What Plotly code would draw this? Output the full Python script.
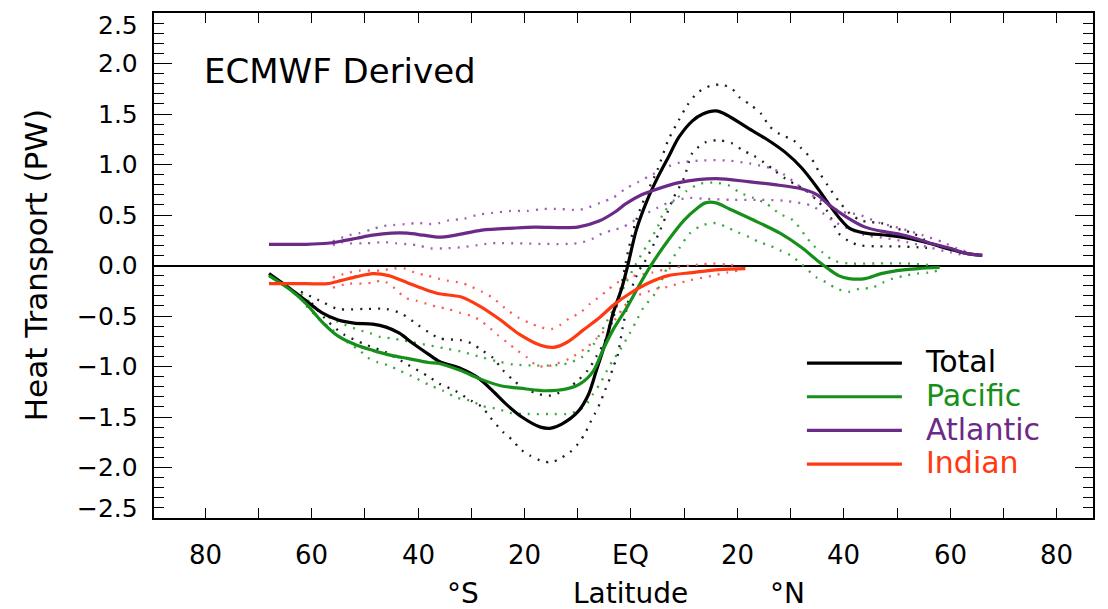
import plotly.graph_objects as go

# ---------------- data ----------------
total_lat = [-68, -64, -61, -58, -55, -52, -48.5, -46, -43.5, -41, -38, -36, -32, -28.5, -26, -23.5,
             -20.5, -17, -15, -13, -10, -8, -6.5, -4.5, -3.4, -1.7, -0.6, 1, 3, 5, 7, 9, 11.5, 13.5,
             16, 18, 22, 25.5, 29, 32, 35, 37, 39, 41, 44, 48, 52, 56, 60, 63, 66]
total_val = [-0.08, -0.23, -0.35, -0.47, -0.54, -0.57, -0.58, -0.61, -0.67, -0.77, -0.88, -0.95, -1.02,
             -1.12, -1.24, -1.37, -1.50, -1.60, -1.61, -1.57, -1.45, -1.28, -1.04, -0.71, -0.48, -0.22,
             0.0, 0.35, 0.64, 0.87, 1.07, 1.27, 1.43, 1.50, 1.53, 1.49, 1.36, 1.25, 1.12, 0.97, 0.77,
             0.62, 0.48, 0.37, 0.32, 0.30, 0.27, 0.22, 0.16, 0.12, 0.10]

total_up_lat = [-62, -58, -55, -50, -46, -43, -40, -38, -36, -32, -30, -28, -26, -24, -22, -20, -17.5,
                -15.5, -14, -12, -10, -8, -6.5, -5, -3.5, -2, -0.5, 1, 3, 5, 7, 9, 10.5, 12.5, 15, 17,
                19, 20.5, 22.5, 24.5, 26, 28, 30.5, 32, 34, 35.5, 37, 39, 41, 43, 45, 47, 49, 51, 53,
                55, 57, 59]
total_up_val = [-0.26, -0.36, -0.43, -0.43, -0.43, -0.48, -0.59, -0.66, -0.72, -0.74, -0.77, -0.84,
                -0.91, -1.04, -1.14, -1.22, -1.27, -1.29, -1.27, -1.22, -1.14, -1.03, -0.90, -0.76,
                -0.55, -0.25, 0.15, 0.45, 0.72, 0.95, 1.24, 1.44, 1.58, 1.71, 1.78, 1.79, 1.75, 1.66,
                1.59, 1.50, 1.38, 1.30, 1.24, 1.16, 1.05, 0.91, 0.79, 0.64, 0.52, 0.45, 0.43, 0.42,
                0.38, 0.35, 0.32, 0.26, 0.21, 0.16]

total_lo_lat = [-60, -57, -54, -50, -46, -42, -38, -36, -33, -30, -28, -26.5, -24, -22, -21, -19, -17,
                -15, -13.3, -11.5, -10, -8.6, -7.7, -6.8, -5.8, -4.9, -3.9, -3.4, -2.6, -1.5, 0, 1.5,
                2.5, 4, 5.5, 6.5, 8, 10, 11.5, 14, 16.5, 19, 21, 23, 25, 27, 29, 31, 33, 35, 37, 39,
                41, 43, 46, 50, 54, 57]
total_lo_val = [-0.37, -0.55, -0.68, -0.78, -0.86, -0.98, -1.10, -1.17, -1.24, -1.34, -1.40, -1.50,
                -1.65, -1.74, -1.81, -1.88, -1.93, -1.95, -1.91, -1.85, -1.77, -1.66, -1.56, -1.47,
                -1.36, -1.24, -1.11, -1.01, -0.91, -0.60, -0.25, -0.05, 0.03, 0.18, 0.35, 0.48, 0.67,
                0.87, 1.11, 1.22, 1.24, 1.21, 1.14, 1.09, 1.02, 0.94, 0.86, 0.80, 0.74, 0.64, 0.53,
                0.32, 0.24, 0.20, 0.19, 0.19, 0.18, 0.17]

pac_lat = [-68, -64, -61, -58, -55, -51.5, -48.5, -45, -42, -38, -36, -32, -28.5, -24.5, -20, -16,
           -12, -9.5, -7, -5.3, -3.4, -0.8, 1.5, 3.5, 7, 10, 12.5, 14, 16, 18.5, 23, 28, 32, 35, 37,
           39, 41, 44, 47, 50, 54, 58]
pac_val = [-0.10, -0.24, -0.38, -0.56, -0.70, -0.79, -0.84, -0.89, -0.92, -0.96, -0.97, -1.04, -1.12,
           -1.19, -1.22, -1.24, -1.22, -1.17, -1.04, -0.84, -0.64, -0.42, -0.20, -0.02, 0.25, 0.45,
           0.57, 0.62, 0.62, 0.56, 0.45, 0.32, 0.18, 0.05, -0.03, -0.10, -0.13, -0.13, -0.08, -0.05,
           -0.03, -0.02]

pac_up_lat = [-62, -58, -55, -51, -49, -47, -45, -43, -41, -38, -35, -32, -28, -25, -22, -18, -15,
              -12, -9, -7, -5, -3, -1, 1, 3, 5, 6, 8, 10.5, 13, 16, 18.5, 20.5, 23, 25.5, 28, 30.4,
              32.7, 34.2, 36, 38, 41, 46, 52, 57]
pac_up_val = [-0.28, -0.47, -0.56, -0.64, -0.67, -0.71, -0.72, -0.74, -0.76, -0.79, -0.82, -0.85,
              -0.91, -0.95, -0.98, -0.99, -0.99, -0.97, -0.90, -0.78, -0.60, -0.40, -0.18, 0.02,
              0.20, 0.38, 0.51, 0.64, 0.74, 0.81, 0.82, 0.79, 0.72, 0.67, 0.61, 0.51, 0.45, 0.30,
              0.20, 0.13, 0.05, 0.02, 0.02, 0.02, 0.0]

pac_lo_lat = [-61, -58, -56.5, -54.5, -53, -51, -49.5, -47.5, -45.5, -43.5, -41, -38, -35.3, -32.7,
              -30, -28, -25, -22.7, -19.5, -14.6, -12, -10, -8.3, -7.1, -5.8, -4.5, -3.4, -2.1, -0.2,
              1.1, 2.3, 4.9, 6.8, 9.2, 11.1, 13.5, 16, 18, 20, 22.3, 24.2, 26, 28, 30, 31.7, 34.9,
              36.8, 38.7, 41, 43, 45.3, 47.3, 49.2, 51.5, 53.7, 55.8, 57.7]
pac_lo_val = [-0.40, -0.56, -0.62, -0.71, -0.77, -0.84, -0.91, -0.96, -0.99, -1.04, -1.10, -1.18,
              -1.24, -1.31, -1.34, -1.39, -1.42, -1.46, -1.47, -1.47, -1.47, -1.44, -1.37, -1.27,
              -1.17, -1.04, -0.94, -0.84, -0.67, -0.54, -0.42, -0.25, -0.02, 0.18, 0.32, 0.40, 0.42,
              0.38, 0.33, 0.28, 0.23, 0.20, 0.15, 0.10, 0.03, -0.12, -0.17, -0.23, -0.26, -0.23,
              -0.22, -0.17, -0.13, -0.10, -0.08, -0.07, -0.05]

atl_lat = [-68, -61, -57, -54.5, -51.5, -48.5, -45, -42, -39, -36, -33, -28, -22, -18, -10, -6, -3,
           -1, 2, 4, 9, 16, 22, 27, 32, 35, 37, 40.5, 44, 47, 50.5, 54, 57, 60, 63, 66]
atl_val = [0.21, 0.21, 0.22, 0.24, 0.27, 0.30, 0.32, 0.32, 0.30, 0.28, 0.30, 0.35, 0.37, 0.38, 0.38,
           0.44, 0.53, 0.61, 0.70, 0.74, 0.82, 0.86, 0.83, 0.80, 0.76, 0.70, 0.61, 0.48, 0.38, 0.34,
           0.31, 0.26, 0.21, 0.17, 0.12, 0.10]

atl_up_lat = [-56, -53, -51, -48.6, -46.6, -44.7, -42.4, -40, -38, -36, -34, -31.5, -29, -26, -22.7,
              -19.5, -16.5, -13.3, -10, -8.3, -5.8, -3.4, -1, 1.5, 4, 7, 9.2, 13.5, 18, 22.3, 26.5,
              28.5, 33.6, 39.2, 43, 46.8, 50.5, 54.8, 58.6, 61.2, 64]
atl_up_val = [0.24, 0.30, 0.32, 0.36, 0.39, 0.40, 0.41, 0.42, 0.41, 0.42, 0.45, 0.46, 0.50, 0.52,
              0.54, 0.54, 0.56, 0.56, 0.55, 0.57, 0.62, 0.67, 0.76, 0.83, 0.90, 0.98, 1.02, 1.04,
              1.04, 1.01, 0.96, 0.91, 0.71, 0.54, 0.50, 0.42, 0.37, 0.30, 0.23, 0.17, 0.12]

atl_lo_lat = [-56, -54.6, -52.8, -50, -46, -44, -42, -40, -37.7, -35, -32, -29, -26, -10, -7, -5.3,
              -3.4, -1.5, 1.7, 4.9, 7.9, 11, 14, 19, 24, 29, 34, 36, 38, 41, 44, 48, 52, 56, 60, 63]
atl_lo_val = [0.20, 0.23, 0.22, 0.22, 0.23, 0.22, 0.21, 0.20, 0.17, 0.17, 0.18, 0.20, 0.22, 0.22,
              0.27, 0.32, 0.35, 0.38, 0.48, 0.57, 0.64, 0.67, 0.66, 0.65, 0.65, 0.64, 0.59, 0.52,
              0.44, 0.36, 0.30, 0.27, 0.23, 0.18, 0.13, 0.10]

ind_lat = [-68, -61, -57, -54.5, -51.5, -48.5, -45.5, -42, -39, -36, -32, -28.5, -24.5, -21, -17,
           -14.5, -12, -9, -6, -3, 0, 3, 7, 11.5, 16.5, 21.5]
ind_val = [-0.18, -0.18, -0.18, -0.15, -0.11, -0.08, -0.10, -0.17, -0.23, -0.28, -0.31, -0.40, -0.54,
           -0.68, -0.79, -0.81, -0.76, -0.64, -0.52, -0.38, -0.27, -0.18, -0.10, -0.07, -0.04, -0.03]

ind_up_lat = [-56, -53, -51, -47, -44.7, -42.4, -40.6, -38.3, -36.2, -34.5, -32, -30, -28, -26, -23,
              -21, -19, -17, -15, -13.3, -11.5, -9.6, -7.7, -6.2, -4.5, -2.6, 0, 4, 7, 11, 13, 15.4,
              17.7, 20]
ind_up_val = [-0.12, -0.07, -0.05, -0.05, -0.03, -0.03, -0.07, -0.10, -0.13, -0.15, -0.17, -0.21,
              -0.26, -0.32, -0.45, -0.52, -0.57, -0.61, -0.63, -0.59, -0.52, -0.47, -0.38, -0.32,
              -0.25, -0.17, -0.11, -0.07, -0.03, 0.0, 0.01, 0.02, 0.01, 0.0]

ind_lo_lat = [-56, -53, -50.5, -48.5, -46.6, -44.3, -42.4, -40.2, -38.3, -36.4, -34.4, -32, -30,
              -28.4, -26.5, -25, -23.3, -21.4, -19.5, -17.7, -15.8, -13.9, -11.5, -8.3, -6.4, -4.5,
              -2.6, -1.5, 0.4, 4.9, 7, 10.7, 13.5, 15.4, 18, 20]
ind_lo_val = [-0.22, -0.18, -0.18, -0.17, -0.15, -0.23, -0.32, -0.35, -0.38, -0.41, -0.43, -0.47,
              -0.50, -0.54, -0.62, -0.69, -0.76, -0.84, -0.91, -0.99, -1.00, -0.97, -0.92, -0.81,
              -0.72, -0.62, -0.51, -0.42, -0.32, -0.23, -0.21, -0.15, -0.12, -0.10, -0.07, -0.05]

series_names = ["Total", "Pacific", "Atlantic", "Indian"]
x_tick_vals = [-80, -70, -60, -50, -40, -30, -20, -10, 0, 10, 20, 30, 40, 50, 60, 70, 80]
x_tick_text = ["80", "", "60", "", "40", "", "20", "", "EQ", "", "20", "", "40", "", "60", "", "80"]
y_tick_vals = [2.5, 2.0, 1.5, 1.0, 0.5, 0.0, -0.5, -1.0, -1.5, -2.0, -2.5]
y_tick_text = ["2.5", "2.0", "1.5", "1.0", "0.5", "0.0", "\u22120.5", "\u22121.0", "\u22121.5",
               "\u22122.0", "\u22122.5"]

# ---------------- styling ----------------
FONT = "DejaVu Sans"
colors = {"Total": "#000000", "Pacific": "#16901a", "Atlantic": "#6b2a86", "Indian": "#ff3a12"}
dot_colors = {"Total": "#202020", "Pacific": "#3aa83a", "Atlantic": "#a25cb8", "Indian": "#ff5a5a"}

fig = go.Figure()

envelopes = [
    ("Total", total_up_lat, total_up_val), ("Total", total_lo_lat, total_lo_val),
    ("Pacific", pac_up_lat, pac_up_val), ("Pacific", pac_lo_lat, pac_lo_val),
    ("Atlantic", atl_up_lat, atl_up_val), ("Atlantic", atl_lo_lat, atl_lo_val),
    ("Indian", ind_up_lat, ind_up_val), ("Indian", ind_lo_lat, ind_lo_val),
]
for name, xs, ys in envelopes:
    fig.add_trace(go.Scatter(x=xs, y=ys, mode="lines", showlegend=False, hoverinfo="skip",
                             line=dict(color=dot_colors[name], width=2.3, dash="2px,7px",
                                       shape="spline", smoothing=0.8)))

solids = [("Total", total_lat, total_val), ("Pacific", pac_lat, pac_val),
          ("Atlantic", atl_lat, atl_val), ("Indian", ind_lat, ind_val)]
NB = "\u00a0\u00a0"
for rank, (name, xs, ys) in enumerate(solids):
    fig.add_trace(go.Scatter(
        x=xs, y=ys, mode="lines", legendrank=rank + 1,
        name='<span style="color:%s;font-size:30px">%s%s</span>' % (colors[name], NB, name),
        line=dict(color=colors[name], width=3.2, shape="spline", smoothing=0.8)))

# y tick labels as text next to the axis
y_shift = {2.5: -12, -2.5: 10}
for v, t in zip(y_tick_vals, y_tick_text):
    fig.add_annotation(x=0, xref="paper", y=v, yref="y", text=t, showarrow=False,
                       xanchor="right", yanchor="middle", xshift=-14, yshift=y_shift.get(v, 0),
                       font=dict(family=FONT, size=25, color="black"))
# x tick labels
for v, t in zip(x_tick_vals, x_tick_text):
    if t:
        fig.add_annotation(x=v, xref="x", y=0, yref="paper", text=t, showarrow=False,
                           xanchor="center", yanchor="middle", yshift=-37,
                           font=dict(family=FONT, size=26, color="black"))

fig.add_annotation(x=-80.5, xref="x", y=1.93, yref="y", text="ECMWF Derived", showarrow=False,
                   xanchor="left", yanchor="middle", font=dict(family=FONT, size=34, color="black"))
fig.add_annotation(x=-0.126, xref="paper", y=0.5, yref="paper", text="Heat Transport (PW)",
                   textangle=-90, showarrow=False, xanchor="center", yanchor="middle",
                   font=dict(family=FONT, size=31, color="black"))
for txt, xv in [("\u00b0S", -31.5), ("Latitude", 0), ("\u00b0N", 29.5)]:
    fig.add_annotation(x=xv, xref="x", y=0, yref="paper", text=txt, showarrow=False,
                       xanchor="center", yanchor="middle", yshift=-75,
                       font=dict(family=FONT, size=28, color="black"))

fig.update_layout(
    width=1108, height=609,
    margin=dict(l=154, r=15, t=13, b=91),
    paper_bgcolor="white", plot_bgcolor="white",
    font=dict(family=FONT, color="black"),
    showlegend=True,
    legend=dict(x=0.69, y=0.35, xanchor="left", yanchor="top", bgcolor="rgba(0,0,0,0)",
                font=dict(family=FONT, size=23.6), itemwidth=95, tracegroupgap=0),
    xaxis=dict(range=[-89.6, 86.8], showgrid=False, zeroline=False, showline=True,
               linecolor="black", linewidth=2, mirror="ticks", ticks="inside", ticklen=10,
               tickwidth=1.3, tickcolor="black", tickvals=x_tick_vals, showticklabels=False),
    yaxis=dict(range=[-2.5, 2.5], showgrid=False, zeroline=True, zerolinecolor="black",
               zerolinewidth=2, showline=True, linecolor="black", linewidth=2, mirror="ticks",
               ticks="inside", ticklen=18, tickwidth=1.3, tickcolor="black",
               tickvals=y_tick_vals, showticklabels=False,
               minor=dict(dtick=0.1, ticklen=10, tickwidth=1.3, tickcolor="black", ticks="inside")),
)

fig.write_html("out.html")
